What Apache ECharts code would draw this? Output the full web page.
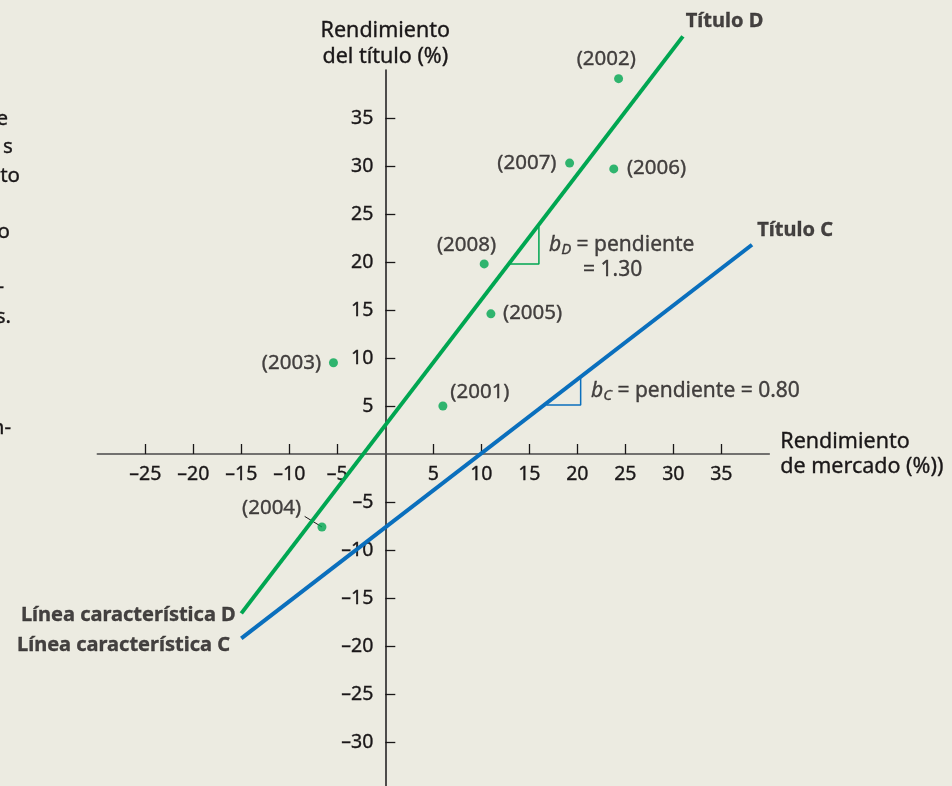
<!DOCTYPE html>
<html><head><meta charset="utf-8">
<script src="https://cdn.jsdelivr.net/npm/echarts@6/dist/echarts.min.js"></script>
<style>html,body{margin:0;padding:0;background:#ecebe1;} #c{width:952px;height:786px;}</style>
</head><body><div id="c"></div>
<script>
// ---- data ----
const years = ['(2001)','(2002)','(2003)','(2004)','(2005)','(2006)','(2007)','(2008)'];
const marketReturn = [6.0, 24.3, -5.4, -6.6, 11.0, 23.8, 19.2, 10.3];
const securityDReturn = [5.0, 39.1, 9.5, -7.6, 14.6, 29.7, 30.3, 19.8];
const lineDX = [-15, 31];
const lineDY = [-16.6, 43.5];
const lineCX = [-15, 38.2];
const lineCY = [-19.2, 21.8];
const triDX = [13.0, 16.0, 16.0];
const triDY = [19.8, 19.8, 23.7];
const triCX = [16.8, 20.35, 20.35];
const triCY = [5.1, 5.1, 7.9];
const leaderX = [-8.4, -6.6];
const leaderY = [-6.5, -7.6];
const xTicks = [-25,-20,-15,-10,-5,5,10,15,20,25,30,35];
const yTicks = [-30,-25,-20,-15,-10,-5,5,10,15,20,25,30,35];
const annTexts = ['Título D','Título C','Línea característica D','Línea característica C','{i|b}{s|D}{t| = pendiente}','= 1.30','{i|b}{s|C}{t| = pendiente = 0.80}'];
const annX = [31.3, 38.75, -15.58, -16.18, 17.05, 20.6, 21.43];
const annY = [45.1, 23.33, -16.84, -19.97, 21.77, 19.17, 6.59];
const pageFragments = ['e','s','to','o','-','s.','n-'];

// ---- styling (kept apart from data) ----
const FONT = '"Noto Sans", "Open Sans", sans-serif';
const INK = '#1a1718';
const GREEN = '#00a651';
const BLUE = '#0a6fbd';
const yearLabelOffset = [[37,-13.5],[-12.3,-19],[-42,0],[-50.3,-18.7],[41.7,-0.7],[42.7,-0.7],[-42.7,0],[-17.7,-19]];
const annAlign = ['left','left','right','right','left','left','left'];
const annBold = [true,true,true,true,false,false,false];
const fragRight = [8,12.7,20,10,4,11,11];
const fragY = [119,147,175.7,231.7,286.7,316.7,428.3];

const zip = (a,b) => a.map((v,i)=>[v,b[i]]);
const fmt = v => v < 0 ? '\u2013' + Math.abs(v) : String(v);

const GRID = {left:97.3, top:70, width:672, height:720};
const X0 = 30/70*GRID.width;          // pixel distance from grid left to x=0
const Y0 = 35/75*GRID.height;         // pixel distance from grid bottom to y=0
const thick = {textBorderColor:INK, textBorderWidth:0.35};

const chart = echarts.init(document.getElementById('c'), null, {renderer:'canvas'});
const richSub = {
  i:Object.assign({fontStyle:'italic', fontSize:21, fontFamily:FONT, color:INK, lineHeight:24, verticalAlign:'middle'}, thick),
  s:Object.assign({fontStyle:'italic', fontSize:15, fontFamily:FONT, color:INK, lineHeight:12, verticalAlign:'bottom'}, thick),
  t:Object.assign({fontSize:21, fontFamily:FONT, color:INK, lineHeight:24, verticalAlign:'middle'}, thick)
};
chart.setOption({
  backgroundColor:'#ecebe1',
  animation:false,
  grid:Object.assign({outerBoundsMode:'none', containLabel:false}, GRID),
  xAxis:{type:'value', min:-30, max:40, interval:5, position:'bottom', offset:-Y0,
    axisLine:{onZero:false, lineStyle:{color:'#4a4a4a', width:1.5}},
    axisTick:{inside:true, length:10, customValues:xTicks, lineStyle:{color:INK, width:1.3}},
    axisLabel:Object.assign({customValues:xTicks, formatter:fmt, color:INK, fontSize:19.5, fontFamily:FONT, margin:10}, thick),
    splitLine:{show:false},
    name:'Rendimiento\nde mercado (%))', nameLocation:'end', nameGap:11,
    nameTextStyle:Object.assign({color:INK, fontSize:21.5, fontFamily:FONT, lineHeight:25, align:'left', verticalAlign:'middle', padding:[13,0,0,0]}, thick)
  },
  yAxis:{type:'value', min:-35, max:40, interval:5, position:'left', offset:-X0,
    axisLine:{onZero:false, lineStyle:{color:INK, width:1.5}},
    axisTick:{inside:true, length:10, customValues:yTicks, lineStyle:{color:INK, width:1.3}},
    axisLabel:Object.assign({customValues:yTicks, formatter:fmt, color:INK, fontSize:19.5, fontFamily:FONT, margin:12}, thick),
    splitLine:{show:false},
    name:'Rendimiento\ndel título (%)', nameLocation:'end', nameGap:0,
    nameTextStyle:Object.assign({color:INK, fontSize:21.5, fontFamily:FONT, lineHeight:26, align:'center'}, thick)
  },
  series:[
    {type:'line', data:zip(lineDX,lineDY), symbol:'none', clip:false, lineStyle:{color:GREEN, width:4}, z:3},
    {type:'line', data:zip(lineCX,lineCY), symbol:'none', clip:false, lineStyle:{color:BLUE, width:4}, z:3},
    {type:'line', data:zip(triDX,triDY), symbol:'none', clip:false, lineStyle:{color:GREEN, width:1.5}, z:2},
    {type:'line', data:zip(triCX,triCY), symbol:'none', clip:false, lineStyle:{color:BLUE, width:1.5}, z:2},
    {type:'line', data:zip(leaderX,leaderY), symbol:'none', clip:false, lineStyle:{color:INK, width:1}, z:2},
    {type:'scatter', clip:false, symbolSize:9, itemStyle:{color:GREEN}, z:4,
      data: marketReturn.map((x,i)=>({value:[x, securityDReturn[i]], name:years[i],
        label:Object.assign({show:true, position:'inside', offset:yearLabelOffset[i], formatter:'{b}', color:INK, fontSize:20.5, fontFamily:FONT}, thick)}))
    },
    {type:'scatter', clip:false, symbolSize:0, silent:true, z:5,
      data: annX.map((x,i)=>({value:[x, annY[i]],
        label:Object.assign({show:true, position:'inside', align:annAlign[i], verticalAlign:'middle', formatter:annTexts[i],
          color:INK, fontSize: annBold[i]?20:21, fontWeight: annBold[i]?'bold':'normal', fontFamily:FONT, rich:richSub}, thick)}))
    }
  ],
  graphic: pageFragments.map((t,i)=>({type:'text', x:fragRight[i], y:fragY[i],
    style:{text:t, align:'right', verticalAlign:'middle', fill:INK, stroke:INK, lineWidth:0.35, font:'20.5px ' + FONT}}))
});
</script></body></html>
